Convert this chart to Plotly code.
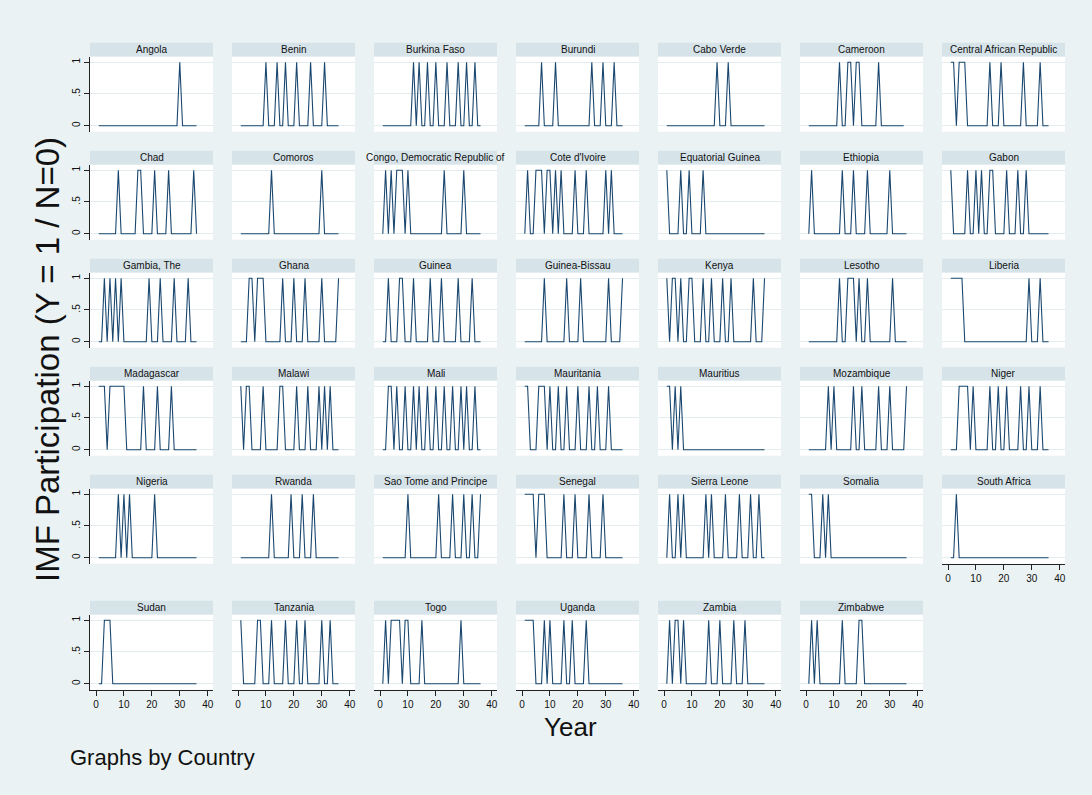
import plotly.graph_objects as go

# ---------------- data ----------------
COUNTRIES = [
    "Angola", "Benin", "Burkina Faso", "Burundi", "Cabo Verde", "Cameroon", "Central African Republic",
    "Chad", "Comoros", "Congo, Democratic Republic of", "Cote d'Ivoire", "Equatorial Guinea", "Ethiopia", "Gabon",
    "Gambia, The", "Ghana", "Guinea", "Guinea-Bissau", "Kenya", "Lesotho", "Liberia",
    "Madagascar", "Malawi", "Mali", "Mauritania", "Mauritius", "Mozambique", "Niger",
    "Nigeria", "Rwanda", "Sao Tome and Principe", "Senegal", "Sierra Leone", "Somalia", "South Africa",
    "Sudan", "Tanzania", "Togo", "Uganda", "Zambia", "Zimbabwe",
]

# years (1..36) in which the country participated in an IMF programme (Y = 1)
PROGRAM_YEARS = [
    [30],
    [10, 14, 17, 21, 26, 31],
    [12, 14, 17, 20, 24, 28, 31, 34],
    [7, 12, 25, 29, 33],
    [19, 23],
    [12, 15, 16, 18, 19, 26],
    [1, 2, 4, 5, 6, 15, 19, 27, 33],
    [8, 15, 16, 21, 26, 35],
    [12, 30],
    [2, 4, 6, 7, 8, 10, 23, 30],
    [2, 5, 6, 7, 9, 10, 12, 14, 19, 23, 30, 32],
    [1, 6, 9, 14],
    [2, 13, 17, 22, 30],
    [1, 7, 10, 12, 15, 16, 21, 25, 28],
    [3, 5, 7, 9, 19, 23, 28, 33],
    [4, 5, 7, 8, 9, 16, 20, 24, 30, 36],
    [3, 7, 8, 12, 18, 22, 28, 33],
    [8, 16, 21, 31, 36],
    [1, 3, 4, 6, 9, 10, 14, 17, 21, 24, 32, 36],
    [12, 15, 16, 17, 19, 22, 31],
    [1, 2, 3, 4, 5, 29, 33],
    [1, 2, 3, 5, 6, 7, 8, 9, 10, 17, 22, 27],
    [1, 3, 4, 9, 15, 16, 21, 25, 29, 31, 33],
    [3, 4, 6, 9, 12, 14, 17, 20, 23, 26, 29, 31, 34],
    [1, 2, 6, 7, 8, 10, 13, 16, 20, 24, 27, 31],
    [1, 2, 4, 6],
    [8, 10, 17, 20, 26, 30, 36],
    [4, 5, 6, 7, 9, 15, 18, 21, 26, 29, 33],
    [8, 10, 12, 21],
    [12, 19, 23, 27],
    [10, 21, 26, 30, 33, 36],
    [1, 2, 3, 4, 6, 7, 8, 15, 19, 24, 29],
    [2, 5, 7, 15, 17, 22, 27, 31, 34],
    [1, 2, 6, 8],
    [3],
    [3, 4, 5],
    [1, 7, 8, 12, 17, 21, 24, 30, 33],
    [2, 4, 5, 6, 7, 9, 10, 15, 29],
    [1, 2, 3, 4, 8, 10, 15, 18, 23],
    [2, 4, 5, 7, 16, 20, 25, 29],
    [2, 4, 13, 19, 20],
]

FIRST_YEAR = 1
LAST_YEAR = [36, 36, 36, 36, 36, 35, 36,
             36, 36, 36, 36, 36, 36, 36,
             36, 36, 36, 36, 36, 36, 36,
             36, 36, 36, 36, 36, 36, 36,
             36, 36, 36, 36, 36, 36, 36,
             36, 36, 36, 36, 36, 36]

X_TICKS = [0, 10, 20, 30, 40]
Y_TICKS = [0, 0.5, 1]
Y_TICK_TEXT = ["0", ".5", "1"]

# ---------------- styling / layout ----------------
W, H = 1092, 795
NCOL = 7
COL_X0, COL_STEP, PANEL_W = 90, 142, 123
ROW_TOP = [42.7, 150.7, 258.7, 366.7, 474.7, 600.7]
TITLE_H, PLOT_H = 14, 75
X_RANGE = [-2.15, 41.9]
Y_RANGE = [-0.095, 1.088]

BG = "#EAF2F3"
TITLE_BG = "#D6E3E9"
LINE = "#1A476F"
GRID = "#E3ECEF"
FONT = "Liberation Sans, Arial, Helvetica, sans-serif"


def px(x):
    return x / W


def py(y):
    return 1 - y / H


n = len(COUNTRIES)
fig = go.Figure()
shapes, annotations = [], []
bottom_in_col = {}
for i in range(n):
    bottom_in_col[i % NCOL] = i

for i, name in enumerate(COUNTRIES):
    r, c = divmod(i, NCOL)
    k = i + 1
    xs = list(range(FIRST_YEAR, LAST_YEAR[i] + 1))
    ys = [1 if t in PROGRAM_YEARS[i] else 0 for t in xs]
    fig.add_trace(go.Scatter(
        x=xs, y=ys, mode="lines", line=dict(color=LINE, width=1.1),
        xaxis=f"x{k}", yaxis=f"y{k}", showlegend=False, hoverinfo="skip"))

    x0 = COL_X0 + COL_STEP * c
    x1 = x0 + PANEL_W
    t = ROW_TOP[r]
    p0 = t + TITLE_H
    p1 = p0 + PLOT_H
    show_x = bottom_in_col[c] == i
    show_y = c == 0
    xa = dict(domain=[px(x0), px(x1)], anchor=f"y{k}", range=X_RANGE,
              tickvals=X_TICKS, showgrid=False, zeroline=False,
              showline=show_x, linecolor="#222", linewidth=1,
              ticks="outside" if show_x else "", ticklen=5, tickcolor="#222",
              showticklabels=show_x, tickfont=dict(family=FONT, size=10, color="#111"),
              fixedrange=True)
    ya = dict(domain=[py(p1), py(p0)], anchor=f"x{k}", range=Y_RANGE,
              tickvals=Y_TICKS, ticktext=Y_TICK_TEXT, showgrid=True, gridcolor=GRID,
              gridwidth=1, zeroline=False,
              showline=show_y, linecolor="#222", linewidth=1,
              ticks="outside" if show_y else "", ticklen=5, tickcolor="#222",
              showticklabels=show_y, tickangle=-90,
              tickfont=dict(family=FONT, size=10, color="#111"), fixedrange=True)
    fig.layout[f"xaxis{k if k > 1 else ''}"] = xa
    fig.layout[f"yaxis{k if k > 1 else ''}"] = ya

    shapes.append(dict(type="rect", xref="paper", yref="paper",
                       x0=px(x0), x1=px(x1), y0=py(p0), y1=py(t),
                       fillcolor=TITLE_BG, line=dict(width=0), layer="below"))
    shapes.append(dict(type="rect", xref="paper", yref="paper",
                       x0=px(x0), x1=px(x1), y0=py(p1), y1=py(p0),
                       fillcolor="white", line=dict(width=0), layer="below"))
    annotations.append(dict(text=name, xref="paper", yref="paper",
                            x=px((x0 + x1) / 2), y=py(t + TITLE_H / 2),
                            xanchor="center", yanchor="middle", showarrow=False,
                            font=dict(family=FONT, size=10, color="#111")))

annotations.append(dict(text="IMF Participation (Y = 1 / N=0)", xref="paper", yref="paper",
                        x=px(47), y=py(360), textangle=-90, showarrow=False,
                        xanchor="center", yanchor="middle",
                        font=dict(family=FONT, size=33, color="#111")))
annotations.append(dict(text="Year", xref="paper", yref="paper",
                        x=px(570), y=py(727), showarrow=False,
                        xanchor="center", yanchor="middle",
                        font=dict(family=FONT, size=26, color="#111")))
annotations.append(dict(text="Graphs by Country", xref="paper", yref="paper",
                        x=px(68), y=py(757), showarrow=False,
                        xanchor="left", yanchor="middle",
                        font=dict(family=FONT, size=22, color="#111")))

fig.update_layout(width=W, height=H, autosize=False,
                  margin=dict(l=0, r=0, t=0, b=0, pad=0),
                  paper_bgcolor=BG, plot_bgcolor="rgba(0,0,0,0)",
                  shapes=shapes, annotations=annotations)

fig.write_html("out.html", config={"displayModeBar": False})
